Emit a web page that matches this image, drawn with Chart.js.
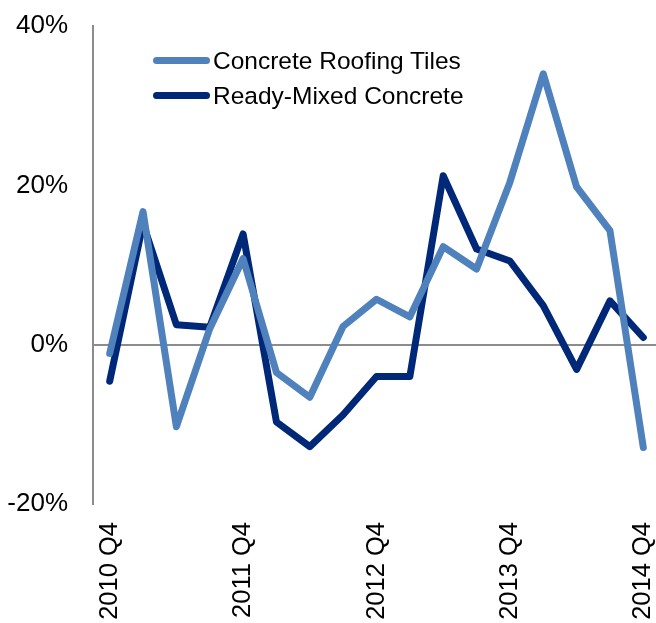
<!DOCTYPE html>
<html>
<head>
<meta charset="utf-8">
<script src="https://cdn.jsdelivr.net/npm/chart.js@4/dist/chart.umd.min.js"></script>
<style>
  html, body { margin: 0; padding: 0; background: #fff; overflow: hidden; }
  #wrap { position: relative; width: 656px; height: 623px; overflow: hidden; }
  #legend { position: absolute; left: 153px; top: 43px; font: 24.5px "Liberation Sans", Arial, sans-serif; color: #000; }
  .lg-row { display: flex; align-items: center; height: 35px; }
  .lg-line { width: 57px; height: 7px; border-radius: 4px; margin-right: 3px; }
</style>
</head>
<body>
<div id="wrap">
  <!-- Plotfläche läuft rechts ein paar Pixel über den Rand hinaus, wie im Original -->
  <canvas id="c" width="660" height="623"></canvas>
  <div id="legend"></div>
</div>
<script>
// Quartale 2010 Q4 – 2014 Q4
const quarters = [
  '2010 Q4', '2011 Q1', '2011 Q2', '2011 Q3', '2011 Q4',
  '2012 Q1', '2012 Q2', '2012 Q3', '2012 Q4',
  '2013 Q1', '2013 Q2', '2013 Q3', '2013 Q4',
  '2014 Q1', '2014 Q2', '2014 Q3', '2014 Q4',
];
// Veränderung ggü. Vorjahr in %
const roofingTiles = [-1.1, 16.7, -10.3, 2.0, 10.8, -3.5, -6.6, 2.3, 5.7, 3.5, 12.3, 9.5, 20.4, 34.0, 19.8, 14.3, -12.9];
const readyMixed = [-4.6, 15.2, 2.5, 2.2, 13.9, -9.7, -12.8, -8.8, -4.0, -4.0, 21.2, 12.0, 10.5, 4.9, -3.1, 5.5, 0.9];
const yTicks = [-20, 0, 20, 40];

const seriesNames = ['Concrete Roofing Tiles', 'Ready-Mixed Concrete'];
const seriesColors = ['#4F81BD', '#002878'];

const FONT = { family: '"Liberation Sans", Arial, sans-serif', size: 26 };

new Chart(document.getElementById('c'), {
  type: 'line',
  data: {
    labels: quarters,
    datasets: [roofingTiles, readyMixed].map((d, i) => ({
      label: seriesNames[i],
      data: d,
      borderColor: seriesColors[i],
      borderWidth: 7,
      pointRadius: 0,
      tension: 0,
      borderJoinStyle: 'round',
      borderCapStyle: 'round',
      fill: false,
    })),
  },
  options: {
    responsive: false,
    animation: false,
    layout: { padding: { top: 26, left: 0, right: 0, bottom: 0 } },
    plugins: { legend: { display: false }, tooltip: { enabled: false } },
    scales: {
      x: {
        offset: true,
        grid: { display: false, drawTicks: false },
        border: { display: false },
        ticks: {
          autoSkip: false,
          minRotation: 90,
          maxRotation: 90,
          padding: 18,
          color: '#000',
          font: { family: FONT.family, size: 25.5 },
          callback: (v, i) => (i % 4 === 0 ? quarters[i] : ''),
        },
        afterFit: (s) => { s.height = 119; s.paddingLeft = 0; s.paddingRight = 0; },
      },
      y: {
        min: yTicks[0],
        max: yTicks[yTicks.length - 1],
        afterBuildTicks: (axis) => { axis.ticks = yTicks.map((v) => ({ value: v })); },
        grid: {
          drawTicks: false,
          lineWidth: 2,
          color: (ctx) => (ctx.tick && ctx.tick.value === 0 ? '#8C8C8C' : 'rgba(0,0,0,0)'),
        },
        border: { display: true, color: '#8C8C8C', width: 2 },
        ticks: {
          padding: 25,
          color: '#000',
          font: FONT,
          callback: (v) => v + '%',
        },
        afterFit: (s) => { s.width = 93; s.paddingTop = 0; s.paddingBottom = 0; },
      },
    },
  },
});

// Legende im Diagrammfeld
document.getElementById('legend').innerHTML = seriesNames.map((n, i) =>
  `<div class="lg-row"><span class="lg-line" style="background:${seriesColors[i]}"></span>${n}</div>`).join('');
</script>
</body>
</html>
